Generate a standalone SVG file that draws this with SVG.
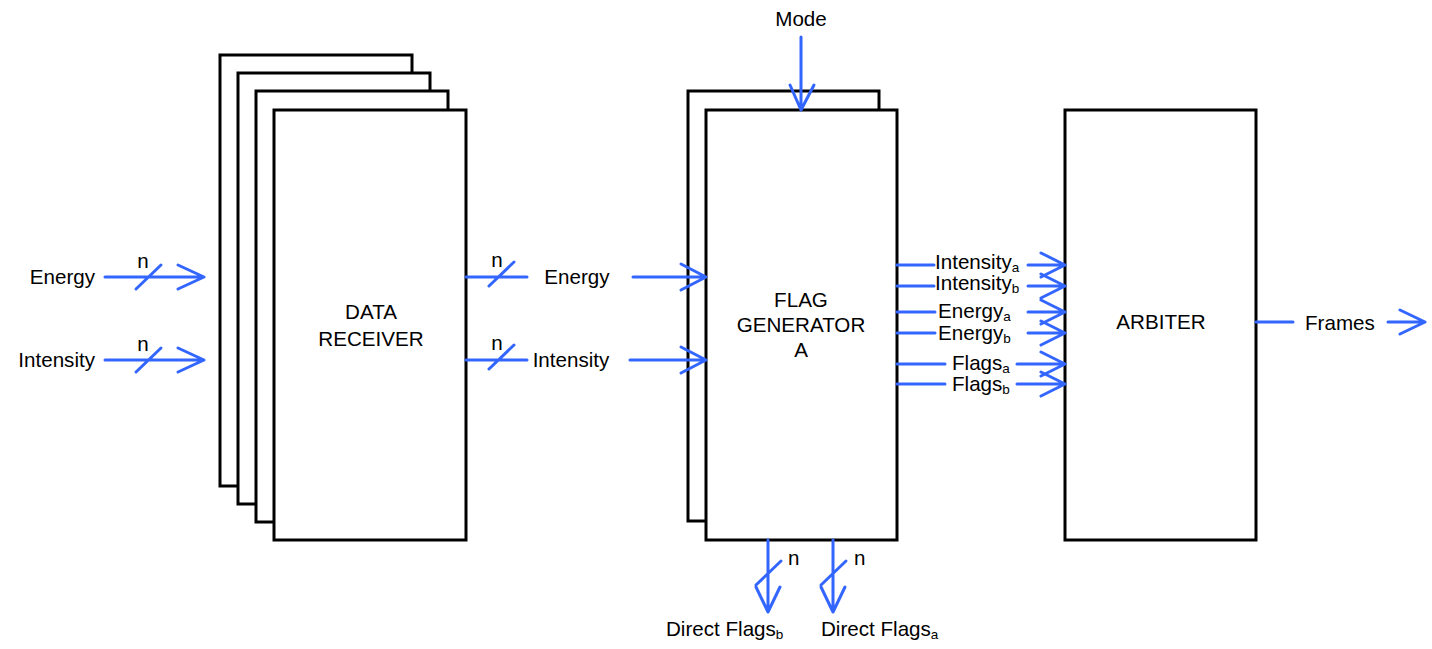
<svg xmlns="http://www.w3.org/2000/svg" width="1432" height="649" viewBox="0 0 1432 649">
<style>
.box{fill:#fff;stroke:#000;stroke-width:3}
.w{stroke:#3366ff;stroke-width:3;fill:none;stroke-linecap:round;stroke-linejoin:round}
text{font-family:"Liberation Sans",Arial,sans-serif;font-size:20.6px;fill:#000}
.m{text-anchor:middle}
.e{text-anchor:end}
.s{font-size:13.5px}
</style>
<rect width="1432" height="649" fill="#fff"/>
<g id="data-receiver">
<rect class="box" x="220" y="55" width="192" height="431"/>
<rect class="box" x="238" y="73" width="192" height="431"/>
<rect class="box" x="256" y="91" width="192" height="431"/>
<rect class="box" x="274" y="110" width="192" height="430"/>
<text class="m" x="371" y="319">DATA</text>
<text class="m" x="371" y="346">RECEIVER</text>
</g>
<g id="flag-generator">
<rect class="box" x="688" y="91" width="191" height="430"/>
<rect class="box" x="706" y="110" width="191" height="430"/>
<text class="m" x="801" y="307">FLAG</text>
<text class="m" x="801" y="332">GENERATOR</text>
<text class="m" x="801" y="357">A</text>
</g>
<g id="arbiter">
<rect class="box" x="1065" y="110" width="191" height="430"/>
<text class="m" x="1161" y="329">ARBITER</text>
</g>
<g id="connectors">
<path class="w" d="M105 277H204M178 265L204 277L178 289M136 289L161 265"/>
<path class="w" d="M105 360H204M178 348L204 360L178 372M136 372L161 348"/>
<path class="w" d="M466 277H527M489 286L514 262"/>
<path class="w" d="M633 277H706M681 264L706 277L681 290"/>
<path class="w" d="M466 360H527M489 369L514 345"/>
<path class="w" d="M630 360H706M681 347L706 360L681 373"/>
<path class="w" d="M801 37V110M790 85L801 110L814 85"/>
<path class="w" d="M897 265H934M1028 265H1065M1041 253L1065 265L1041 277"/>
<path class="w" d="M897 286H934M1028 286H1065M1041 274L1065 286L1041 298"/>
<path class="w" d="M897 312H935M1028 312H1065M1041 300L1065 312L1041 324"/>
<path class="w" d="M897 333H935M1028 333H1065M1041 321L1065 333L1041 345"/>
<path class="w" d="M897 364H945M1017 364H1065M1041 352L1065 364L1041 376"/>
<path class="w" d="M897 384H945M1017 384H1065M1041 372L1065 384L1041 396"/>
<path class="w" d="M1256 322H1293M1388 322H1425M1400 310L1425 322L1400 334"/>
<path class="w" d="M768 540V612M756 587L768 612L780 587M756 585L781 561"/>
<path class="w" d="M833 540V612M821 587L833 612L845 587M821 585L846 561"/>
</g>
<g id="labels">
<text class="e" x="95" y="284">Energy</text>
<text class="e" x="95" y="367">Intensity</text>
<text class="m" x="143" y="268">n</text>
<text class="m" x="143" y="351">n</text>
<text class="m" x="497" y="267">n</text>
<text class="m" x="497" y="350">n</text>
<text class="m" x="577" y="284">Energy</text>
<text class="m" x="571" y="367">Intensity</text>
<text class="m" x="801" y="26">Mode</text>
<text x="935" y="269">Intensity<tspan class="s" dy="3">a</tspan></text>
<text x="935" y="290">Intensity<tspan class="s" dy="3">b</tspan></text>
<text x="938" y="318">Energy<tspan class="s" dy="3">a</tspan></text>
<text x="938" y="340">Energy<tspan class="s" dy="3">b</tspan></text>
<text x="952" y="370">Flags<tspan class="s" dy="3">a</tspan></text>
<text x="952" y="391">Flags<tspan class="s" dy="3">b</tspan></text>
<text x="1305" y="330">Frames</text>
<text x="788" y="565">n</text>
<text x="854" y="565">n</text>
<text x="666" y="636">Direct Flags<tspan class="s" dy="3">b</tspan></text>
<text x="821" y="636">Direct Flags<tspan class="s" dy="3">a</tspan></text>
</g>
</svg>
